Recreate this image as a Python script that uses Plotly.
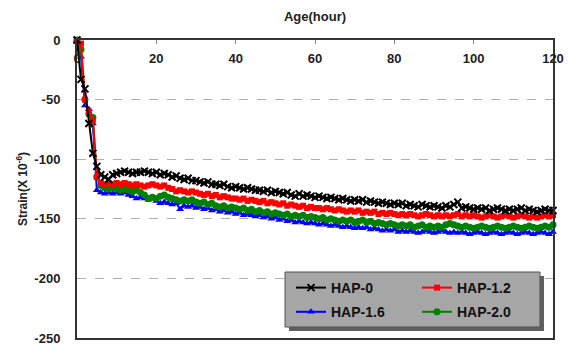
import plotly.graph_objects as go

hours = list(range(0, 121))

hap_0 = [0, -33, -41, -70, -95, -106, -113, -115, -117, -113,
         -112, -111, -110, -111, -112, -111, -111, -110, -111, -112,
         -111, -113, -112, -113, -115, -114, -116, -117, -116, -118,
         -118, -119, -120, -119, -121, -121, -122, -121, -123, -124,
         -123, -124, -125, -124, -125, -126, -126, -127, -126, -128,
         -127, -128, -129, -128, -130, -131, -129, -131, -130, -131,
         -132, -131, -132, -133, -132, -133, -134, -133, -134, -135,
         -134, -135, -134, -136, -135, -136, -137, -136, -137, -138,
         -137, -138, -137, -139, -138, -139, -140, -138, -139, -140,
         -139, -140, -141, -139, -140, -138, -136, -141, -140, -141,
         -142, -141, -142, -141, -143, -142, -141, -142, -143, -142,
         -143, -142, -141, -143, -142, -143, -144, -143, -142, -143,
         -143]

hap_12 = [0, -3, -50, -60, -67, -115, -120, -121, -120, -121,
          -120, -121, -120, -121, -122, -121, -122, -123, -122, -121,
          -122, -123, -122, -124, -125, -127, -126, -127, -128, -127,
          -128, -129, -130, -129, -131, -130, -132, -131, -132, -133,
          -133, -134, -133, -135, -134, -135, -136, -135, -137, -136,
          -137, -138, -137, -139, -138, -139, -140, -139, -141, -140,
          -141, -141, -142, -141, -142, -143, -142, -143, -144, -143,
          -144, -143, -145, -144, -145, -144, -146, -145, -146, -145,
          -146, -147, -146, -147, -146, -147, -148, -147, -146, -147,
          -148, -147, -148, -147, -148, -147, -146, -148, -147, -148,
          -147, -148, -149, -148, -147, -148, -149, -148, -147, -148,
          -149, -148, -147, -148, -149, -148, -149, -148, -147, -148,
          -147]

hap_16 = [0, -14, -55, -58, -70, -126, -128, -129, -128, -129,
          -128, -129, -128, -130, -131, -133, -132, -133, -134, -133,
          -135, -137, -136, -137, -138, -137, -142, -139, -140, -139,
          -141, -140, -142, -141, -143, -142, -144, -143, -145, -144,
          -146, -145, -147, -146, -147, -148, -147, -149, -148, -150,
          -149, -151, -150, -152, -151, -153, -152, -153, -154, -153,
          -154, -155, -154, -155, -156, -155, -156, -157, -156, -157,
          -158, -157, -158, -157, -159, -158, -159, -160, -159, -160,
          -159, -161, -160, -161, -160, -161, -162, -161, -160, -161,
          -162, -161, -160, -161, -162, -161, -162, -161, -162, -163,
          -162, -161, -162, -163, -162, -161, -162, -163, -162, -161,
          -162, -163, -162, -161, -162, -163, -162, -161, -162, -163,
          -161]

hap_20 = [0, -8, -50, -62, -65, -115, -122, -124, -125, -124,
          -125, -126, -125, -126, -127, -126, -128, -130, -133, -132,
          -133, -131, -130, -132, -133, -134, -135, -134, -135, -134,
          -136, -137, -136, -138, -137, -139, -140, -139, -141, -140,
          -141, -142, -141, -143, -142, -144, -143, -145, -144, -146,
          -145, -146, -147, -146, -148, -147, -148, -147, -149, -148,
          -149, -150, -149, -151, -150, -151, -152, -151, -152, -151,
          -153, -152, -151, -153, -152, -154, -153, -154, -155, -154,
          -155, -156, -155, -156, -155, -157, -156, -155, -157, -156,
          -157, -156, -157, -155, -154, -155, -156, -157, -156, -157,
          -158, -157, -156, -157, -158, -157, -156, -157, -158, -157,
          -156, -157, -158, -157, -156, -157, -158, -157, -156, -157,
          -155]

x_ticks = [0, 20, 40, 60, 80, 100, 120]
y_ticks = [0, -50, -100, -150, -200, -250]

FONT = "Arial, Liberation Sans, sans-serif"

W, H = 572, 347
ML, MR, MT, MB = 77, 19, 40, 9
PW, PH = W - ML - MR, H - MT - MB


def px(xp):
    return (xp - ML) / PW


def py(yp):
    return (H - MB - yp) / PH


series = [
    ("HAP-1.6", hap_16, "#0000ff", "triangle-up", 7, "legend"),
    ("HAP-2.0", hap_20, "#008000", "circle", 7, "legend2"),
    ("HAP-1.2", hap_12, "#ff0000", "square", 6, "legend2"),
    ("HAP-0", hap_0, "#000000", "x-thin-open", 7, "legend"),
]

fig = go.Figure()
legend_rank = {"HAP-0": 1, "HAP-1.2": 1, "HAP-1.6": 2, "HAP-2.0": 2}
for name, vals, color, sym, size, leg in series:
    fig.add_trace(go.Scatter(
        x=hours, y=vals, name=name, mode="lines+markers",
        line=dict(color=color, width=2),
        marker=dict(symbol=sym, size=size, color=color,
                    line=dict(color=color, width=2 if sym.startswith("x") else 0)),
        legend=leg, legendrank=legend_rank[name], legendgroup=name,
        cliponaxis=False,
    ))

legend_common = dict(
    bgcolor="rgba(0,0,0,0)", borderwidth=0,
    font=dict(family=FONT, size=14, color="#111", weight="bold"),
    tracegroupgap=3, itemwidth=30,
    xanchor="left", yanchor="top",
)

fig.update_layout(
    width=W, height=H,
    margin=dict(l=ML, r=MR, t=MT, b=MB, autoexpand=False),
    paper_bgcolor="white", plot_bgcolor="white",
    font=dict(family=FONT, size=13, color="#222"),
    showlegend=True,
    legend=dict(x=px(291), y=py(272), **legend_common),
    legend2=dict(x=px(417), y=py(272), **legend_common),
    shapes=[
        dict(type="rect", xref="paper", yref="paper",
             x0=px(289), x1=px(544), y0=py(331), y1=py(276),
             fillcolor="#606060", line=dict(width=0), layer="above"),
        dict(type="rect", xref="paper", yref="paper",
             x0=px(285), x1=px(540), y0=py(327), y1=py(272),
             fillcolor="#a6a6a6", line=dict(color="#505050", width=1), layer="above"),
    ],
    xaxis=dict(
        side="top", range=[0, 120], tickvals=x_ticks,
        ticktext=[str(v) for v in x_ticks],
        ticks="inside", ticklen=4, tickcolor="#888",
        ticklabelstandoff=-30, ticklabeloverflow="allow",
        tickfont=dict(family=FONT, size=13, color="#222", weight="bold"),
        showline=True, linecolor="#333", linewidth=2, mirror=True,
        showgrid=False, zeroline=False, automargin=False,
        title=dict(text="<b>Age(hour)</b>", font=dict(family=FONT, size=13, color="#222"),
                   standoff=26),
    ),
    yaxis=dict(
        range=[-250, 0], tickvals=y_ticks,
        ticktext=[str(v) for v in y_ticks],
        ticks="", ticklabelstandoff=12, ticklabeloverflow="allow",
        tickfont=dict(family=FONT, size=13, color="#222", weight="bold"),
        showline=True, linecolor="#333", linewidth=2, mirror=True,
        showgrid=True, gridcolor="#b0b0b0", griddash="dash", gridwidth=1,
        zeroline=False, automargin=False,
        title=dict(text="<b>Strain(X 10<sup>-6</sup>)</b>",
                   font=dict(family=FONT, size=12, color="#222"), standoff=4),
    ),
)

fig.write_html("out.html")
